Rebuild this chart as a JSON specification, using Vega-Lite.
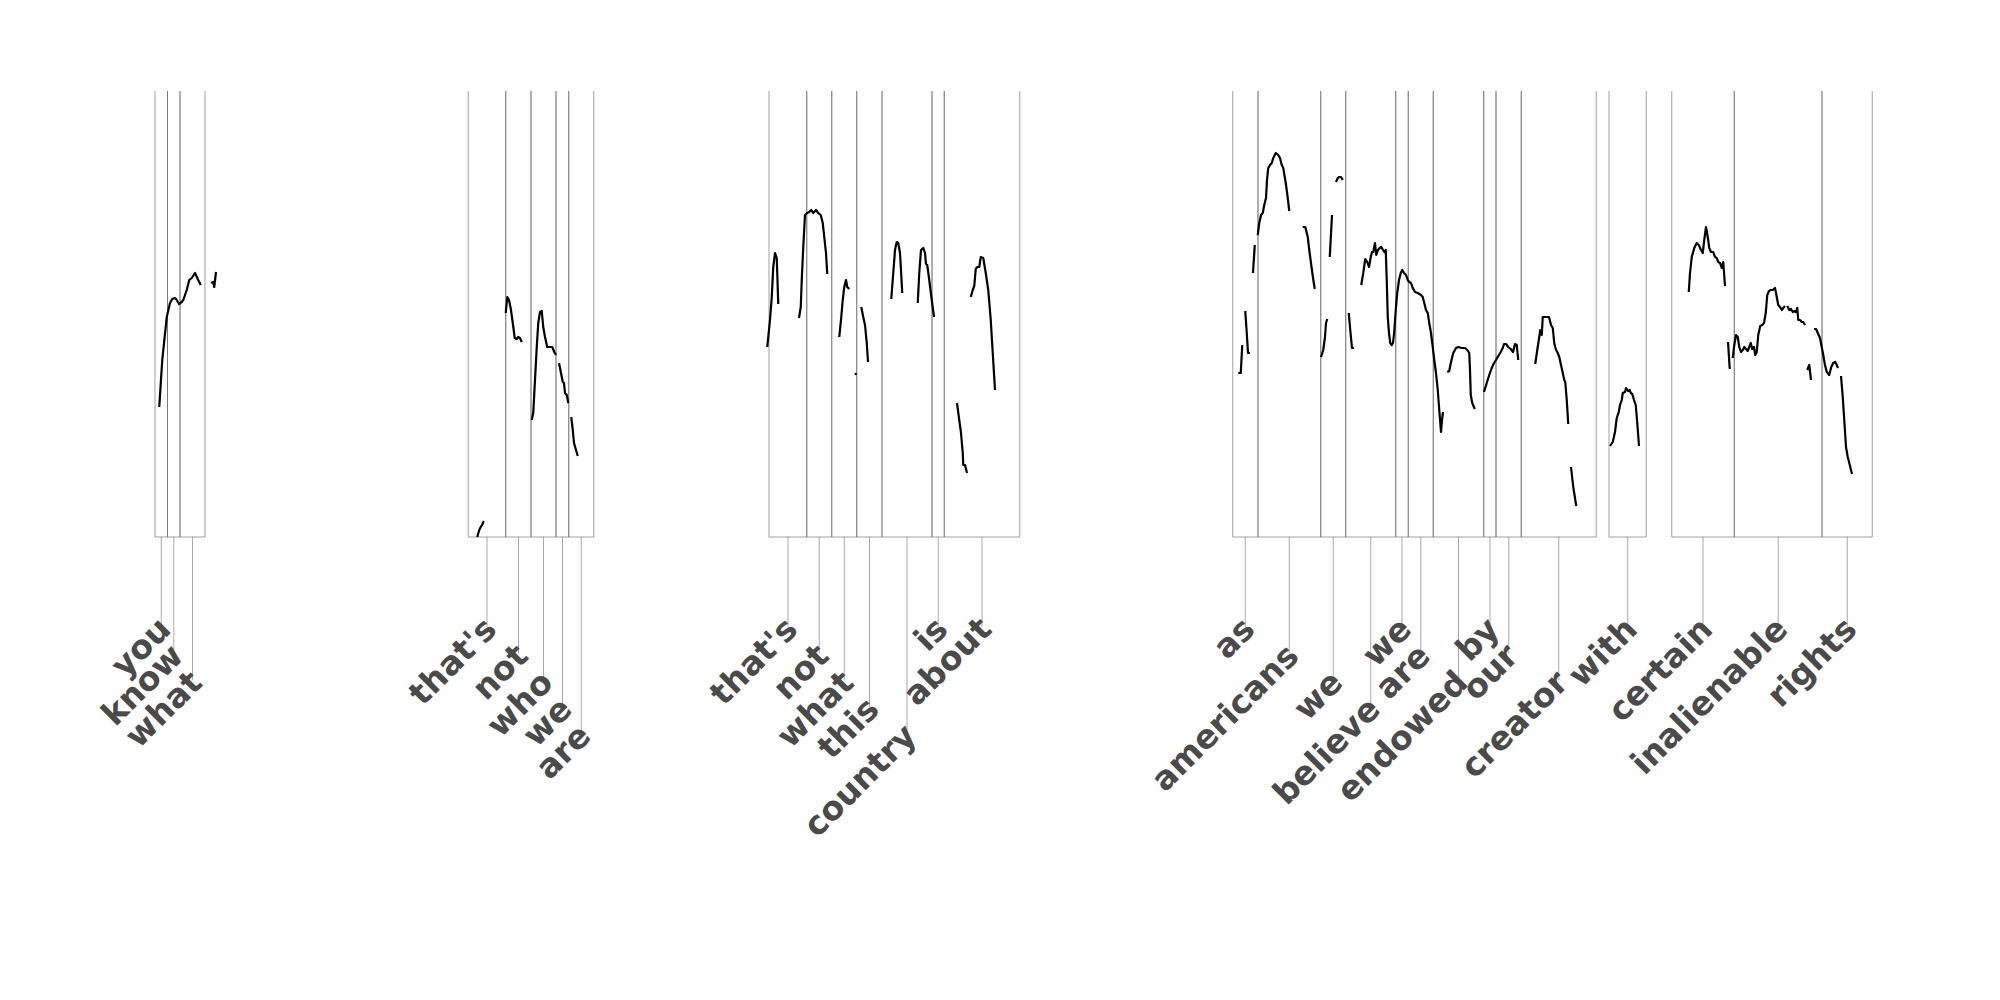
{
"$schema": "https://vega.github.io/schema/vega-lite/v6.json",
"width": 2000, "height": 1000, "padding": 0, "autosize": {"type": "none"},
"background": "white",
"config": {"view": {"stroke": null}},
"datasets": {
"words": [
{"w":"you","start":620,"end":670,"mid":645,"level":0},
{"w":"know","start":670,"end":720,"mid":695,"level":1},
{"w":"what","start":720,"end":820,"mid":770,"level":2},
{"w":"that's","start":1873,"end":2023,"mid":1948,"level":0},
{"w":"not","start":2023,"end":2124,"mid":2074,"level":1},
{"w":"who","start":2124,"end":2224,"mid":2174,"level":2},
{"w":"we","start":2224,"end":2275,"mid":2250,"level":3},
{"w":"are","start":2275,"end":2375,"mid":2325,"level":4},
{"w":"that's","start":3076,"end":3227,"mid":3152,"level":0},
{"w":"not","start":3227,"end":3327,"mid":3277,"level":1},
{"w":"what","start":3327,"end":3427,"mid":3377,"level":2},
{"w":"this","start":3427,"end":3528,"mid":3478,"level":3},
{"w":"country","start":3528,"end":3728,"mid":3628,"level":4},
{"w":"is","start":3728,"end":3777,"mid":3753,"level":0},
{"w":"about","start":3777,"end":4079,"mid":3928,"level":0},
{"w":"as","start":4931,"end":5032,"mid":4981,"level":0},
{"w":"americans","start":5032,"end":5283,"mid":5157,"level":1},
{"w":"we","start":5283,"end":5383,"mid":5333,"level":2},
{"w":"believe","start":5383,"end":5583,"mid":5483,"level":3},
{"w":"we","start":5583,"end":5633,"mid":5608,"level":0},
{"w":"are","start":5633,"end":5733,"mid":5683,"level":1},
{"w":"endowed","start":5733,"end":5935,"mid":5834,"level":2},
{"w":"by","start":5935,"end":5984,"mid":5960,"level":0},
{"w":"our","start":5984,"end":6085,"mid":6035,"level":1},
{"w":"creator","start":6085,"end":6385,"mid":6235,"level":2},
{"w":"with","start":6436,"end":6585,"mid":6511,"level":0},
{"w":"certain","start":6687,"end":6937,"mid":6812,"level":0},
{"w":"inalienable","start":6937,"end":7288,"mid":7113,"level":0},
{"w":"rights","start":7288,"end":7489,"mid":7389,"level":0}
],
"pitch": [
{"seg":"1a","t":637,"f0":130},{"seg":"1a","t":649,"f0":177},{"seg":"1a","t":667,"f0":220},{"seg":"1a","t":680,"f0":234},{"seg":"1a","t":689,"f0":238},{"seg":"1a","t":700,"f0":239},{"seg":"1a","t":707,"f0":237},{"seg":"1a","t":716,"f0":233},{"seg":"1a","t":727,"f0":235},{"seg":"1a","t":733,"f0":237},{"seg":"1a","t":747,"f0":247},{"seg":"1a","t":757,"f0":257},{"seg":"1a","t":767,"f0":259},{"seg":"1a","t":780,"f0":264},{"seg":"1a","t":791,"f0":258},{"seg":"1a","t":803,"f0":252},
{"seg":"1b","t":845,"f0":254},{"seg":"1b","t":853,"f0":255},{"seg":"1b","t":857,"f0":250},{"seg":"1b","t":864,"f0":265},
{"seg":"2a","t":1909,"f0":0},{"seg":"2a","t":1917,"f0":7},{"seg":"2a","t":1923,"f0":10},{"seg":"2a","t":1928,"f0":12},{"seg":"2a","t":1935,"f0":16},
{"seg":"2b","t":2023,"f0":224},{"seg":"2b","t":2029,"f0":240},{"seg":"2b","t":2036,"f0":237},{"seg":"2b","t":2044,"f0":227},{"seg":"2b","t":2051,"f0":214},{"seg":"2b","t":2059,"f0":199},{"seg":"2b","t":2067,"f0":198},{"seg":"2b","t":2073,"f0":200},{"seg":"2b","t":2080,"f0":199},{"seg":"2b","t":2087,"f0":195},
{"seg":"2c","t":2127,"f0":117},{"seg":"2c","t":2133,"f0":124},{"seg":"2c","t":2140,"f0":157},{"seg":"2c","t":2147,"f0":190},{"seg":"2c","t":2153,"f0":214},{"seg":"2c","t":2160,"f0":225},{"seg":"2c","t":2167,"f0":226},{"seg":"2c","t":2173,"f0":210},{"seg":"2c","t":2180,"f0":200},{"seg":"2c","t":2189,"f0":190},{"seg":"2c","t":2200,"f0":190},{"seg":"2c","t":2209,"f0":190},{"seg":"2c","t":2217,"f0":185},{"seg":"2c","t":2224,"f0":182},
{"seg":"2d","t":2236,"f0":174},{"seg":"2d","t":2244,"f0":164},{"seg":"2d","t":2251,"f0":155},{"seg":"2d","t":2256,"f0":154},{"seg":"2d","t":2260,"f0":144},{"seg":"2d","t":2267,"f0":142},{"seg":"2d","t":2273,"f0":134},
{"seg":"2e","t":2285,"f0":120},{"seg":"2e","t":2291,"f0":107},{"seg":"2e","t":2296,"f0":94},{"seg":"2e","t":2304,"f0":87},{"seg":"2e","t":2311,"f0":81},
{"seg":"3a","t":3069,"f0":190},{"seg":"3a","t":3080,"f0":217},{"seg":"3a","t":3087,"f0":240},{"seg":"3a","t":3093,"f0":270},{"seg":"3a","t":3100,"f0":284},{"seg":"3a","t":3107,"f0":279},{"seg":"3a","t":3113,"f0":233},
{"seg":"3b","t":3196,"f0":219},{"seg":"3b","t":3203,"f0":230},{"seg":"3b","t":3207,"f0":257},{"seg":"3b","t":3213,"f0":290},{"seg":"3b","t":3220,"f0":322},{"seg":"3b","t":3229,"f0":324},{"seg":"3b","t":3237,"f0":325},{"seg":"3b","t":3245,"f0":327},{"seg":"3b","t":3253,"f0":324},{"seg":"3b","t":3264,"f0":327},{"seg":"3b","t":3273,"f0":324},{"seg":"3b","t":3283,"f0":322},{"seg":"3b","t":3291,"f0":314},{"seg":"3b","t":3297,"f0":300},{"seg":"3b","t":3304,"f0":284},{"seg":"3b","t":3309,"f0":263},
{"seg":"3c","t":3357,"f0":200},{"seg":"3c","t":3364,"f0":217},{"seg":"3c","t":3371,"f0":237},{"seg":"3c","t":3377,"f0":250},{"seg":"3c","t":3384,"f0":257},{"seg":"3c","t":3389,"f0":250},{"seg":"3c","t":3397,"f0":248},
{"seg":"3d","t":3419,"f0":163},{"seg":"3d","t":3427,"f0":163},
{"seg":"3e","t":3445,"f0":230},{"seg":"3e","t":3453,"f0":220},{"seg":"3e","t":3460,"f0":212},{"seg":"3e","t":3467,"f0":194},{"seg":"3e","t":3472,"f0":175},
{"seg":"3f","t":3565,"f0":238},{"seg":"3f","t":3573,"f0":264},{"seg":"3f","t":3580,"f0":287},{"seg":"3f","t":3587,"f0":295},{"seg":"3f","t":3593,"f0":294},{"seg":"3f","t":3600,"f0":284},{"seg":"3f","t":3604,"f0":267},{"seg":"3f","t":3609,"f0":244},
{"seg":"3g","t":3671,"f0":234},{"seg":"3g","t":3677,"f0":264},{"seg":"3g","t":3684,"f0":287},{"seg":"3g","t":3693,"f0":289},{"seg":"3g","t":3700,"f0":284},{"seg":"3g","t":3704,"f0":273},{"seg":"3g","t":3709,"f0":272},{"seg":"3g","t":3717,"f0":257},{"seg":"3g","t":3727,"f0":237},{"seg":"3g","t":3736,"f0":220},
{"seg":"3h","t":3828,"f0":134},{"seg":"3h","t":3837,"f0":117},{"seg":"3h","t":3844,"f0":104},{"seg":"3h","t":3851,"f0":84},{"seg":"3h","t":3853,"f0":72},{"seg":"3h","t":3860,"f0":72},{"seg":"3h","t":3868,"f0":64},
{"seg":"3i","t":3883,"f0":240},{"seg":"3i","t":3891,"f0":247},{"seg":"3i","t":3897,"f0":251},{"seg":"3i","t":3903,"f0":268},{"seg":"3i","t":3909,"f0":270},{"seg":"3i","t":3917,"f0":270},{"seg":"3i","t":3923,"f0":280},{"seg":"3i","t":3933,"f0":279},{"seg":"3i","t":3943,"f0":264},{"seg":"3i","t":3953,"f0":247},{"seg":"3i","t":3963,"f0":217},{"seg":"3i","t":3971,"f0":184},{"seg":"3i","t":3980,"f0":147},
{"seg":"4a","t":4953,"f0":164},{"seg":"4a","t":4963,"f0":164},{"seg":"4a","t":4969,"f0":192},
{"seg":"4b","t":4981,"f0":226},{"seg":"4b","t":4987,"f0":204},{"seg":"4b","t":4992,"f0":184},{"seg":"4b","t":5000,"f0":184},
{"seg":"4c","t":5012,"f0":264},{"seg":"4c","t":5019,"f0":292},
{"seg":"4d","t":5031,"f0":302},{"seg":"4d","t":5037,"f0":314},{"seg":"4d","t":5044,"f0":322},{"seg":"4d","t":5051,"f0":324},{"seg":"4d","t":5057,"f0":332},{"seg":"4d","t":5064,"f0":339},{"seg":"4d","t":5068,"f0":357},{"seg":"4d","t":5073,"f0":369},{"seg":"4d","t":5080,"f0":372},{"seg":"4d","t":5087,"f0":374},{"seg":"4d","t":5093,"f0":379},{"seg":"4d","t":5103,"f0":384},{"seg":"4d","t":5113,"f0":382},{"seg":"4d","t":5120,"f0":379},{"seg":"4d","t":5127,"f0":372},{"seg":"4d","t":5133,"f0":369},{"seg":"4d","t":5143,"f0":354},{"seg":"4d","t":5151,"f0":339},{"seg":"4d","t":5157,"f0":326},
{"seg":"4e","t":5211,"f0":310},{"seg":"4e","t":5221,"f0":310},{"seg":"4e","t":5231,"f0":300},{"seg":"4e","t":5237,"f0":287},{"seg":"4e","t":5244,"f0":274},{"seg":"4e","t":5251,"f0":261},{"seg":"4e","t":5259,"f0":248},
{"seg":"4f","t":5284,"f0":180},{"seg":"4f","t":5293,"f0":187},{"seg":"4f","t":5300,"f0":200},{"seg":"4f","t":5304,"f0":214},{"seg":"4f","t":5309,"f0":218},
{"seg":"4g","t":5319,"f0":280},{"seg":"4g","t":5328,"f0":322},
{"seg":"4h","t":5344,"f0":355},{"seg":"4h","t":5351,"f0":359},{"seg":"4h","t":5357,"f0":360},{"seg":"4h","t":5364,"f0":360},{"seg":"4h","t":5371,"f0":357},
{"seg":"4i","t":5395,"f0":224},{"seg":"4i","t":5401,"f0":207},{"seg":"4i","t":5408,"f0":189},{"seg":"4i","t":5416,"f0":189},
{"seg":"4j","t":5445,"f0":252},{"seg":"4j","t":5453,"f0":264},{"seg":"4j","t":5461,"f0":278},{"seg":"4j","t":5469,"f0":275},{"seg":"4j","t":5476,"f0":270},{"seg":"4j","t":5483,"f0":280},{"seg":"4j","t":5488,"f0":285},{"seg":"4j","t":5493,"f0":285},{"seg":"4j","t":5500,"f0":294},{"seg":"4j","t":5505,"f0":282},{"seg":"4j","t":5512,"f0":287},{"seg":"4j","t":5519,"f0":289},{"seg":"4j","t":5525,"f0":290},{"seg":"4j","t":5532,"f0":287},{"seg":"4j","t":5537,"f0":285},{"seg":"4j","t":5543,"f0":287},{"seg":"4j","t":5547,"f0":257},{"seg":"4j","t":5551,"f0":220},{"seg":"4j","t":5556,"f0":204},{"seg":"4j","t":5561,"f0":194},{"seg":"4j","t":5567,"f0":192},{"seg":"4j","t":5572,"f0":194},{"seg":"4j","t":5577,"f0":205},{"seg":"4j","t":5583,"f0":227},{"seg":"4j","t":5589,"f0":244},{"seg":"4j","t":5596,"f0":257},{"seg":"4j","t":5603,"f0":264},{"seg":"4j","t":5609,"f0":267},{"seg":"4j","t":5616,"f0":264},{"seg":"4j","t":5624,"f0":262},{"seg":"4j","t":5631,"f0":257},{"seg":"4j","t":5637,"f0":255},{"seg":"4j","t":5644,"f0":254},{"seg":"4j","t":5651,"f0":249},{"seg":"4j","t":5660,"f0":245},{"seg":"4j","t":5671,"f0":244},{"seg":"4j","t":5684,"f0":242},{"seg":"4j","t":5691,"f0":240},{"seg":"4j","t":5697,"f0":234},{"seg":"4j","t":5704,"f0":227},{"seg":"4j","t":5711,"f0":224},{"seg":"4j","t":5717,"f0":214},{"seg":"4j","t":5724,"f0":204},{"seg":"4j","t":5731,"f0":190},{"seg":"4j","t":5737,"f0":177},{"seg":"4j","t":5744,"f0":164},{"seg":"4j","t":5751,"f0":147},{"seg":"4j","t":5757,"f0":127},{"seg":"4j","t":5764,"f0":105},{"seg":"4j","t":5768,"f0":117},{"seg":"4j","t":5772,"f0":125},
{"seg":"4k","t":5789,"f0":165},{"seg":"4k","t":5797,"f0":166},{"seg":"4k","t":5804,"f0":175},{"seg":"4k","t":5813,"f0":184},{"seg":"4k","t":5824,"f0":189},{"seg":"4k","t":5833,"f0":190},{"seg":"4k","t":5847,"f0":189},{"seg":"4k","t":5860,"f0":189},{"seg":"4k","t":5869,"f0":187},{"seg":"4k","t":5877,"f0":184},{"seg":"4k","t":5880,"f0":167},{"seg":"4k","t":5883,"f0":142},{"seg":"4k","t":5889,"f0":134},{"seg":"4k","t":5899,"f0":128},
{"seg":"4l","t":5936,"f0":145},{"seg":"4l","t":5947,"f0":154},{"seg":"4l","t":5957,"f0":162},{"seg":"4l","t":5967,"f0":169},{"seg":"4l","t":5976,"f0":174},{"seg":"4l","t":5984,"f0":177},{"seg":"4l","t":5993,"f0":181},{"seg":"4l","t":6003,"f0":185},{"seg":"4l","t":6011,"f0":189},{"seg":"4l","t":6016,"f0":193},{"seg":"4l","t":6024,"f0":193},{"seg":"4l","t":6033,"f0":190},{"seg":"4l","t":6043,"f0":188},{"seg":"4l","t":6052,"f0":185},{"seg":"4l","t":6060,"f0":193},{"seg":"4l","t":6067,"f0":192},{"seg":"4l","t":6073,"f0":177},
{"seg":"4m","t":6141,"f0":173},{"seg":"4m","t":6149,"f0":187},{"seg":"4m","t":6157,"f0":200},{"seg":"4m","t":6161,"f0":207},{"seg":"4m","t":6167,"f0":202},{"seg":"4m","t":6171,"f0":220},{"seg":"4m","t":6177,"f0":220},{"seg":"4m","t":6187,"f0":220},{"seg":"4m","t":6196,"f0":220},{"seg":"4m","t":6204,"f0":212},{"seg":"4m","t":6211,"f0":209},{"seg":"4m","t":6217,"f0":194},{"seg":"4m","t":6223,"f0":188},{"seg":"4m","t":6231,"f0":184},{"seg":"4m","t":6237,"f0":180},{"seg":"4m","t":6244,"f0":172},{"seg":"4m","t":6251,"f0":164},{"seg":"4m","t":6257,"f0":157},{"seg":"4m","t":6261,"f0":155},{"seg":"4m","t":6267,"f0":137},{"seg":"4m","t":6273,"f0":113},
{"seg":"4n","t":6284,"f0":70},{"seg":"4n","t":6293,"f0":50},{"seg":"4n","t":6305,"f0":31},
{"seg":"5a","t":6440,"f0":91},{"seg":"5a","t":6451,"f0":95},{"seg":"5a","t":6460,"f0":105},{"seg":"5a","t":6467,"f0":119},{"seg":"5a","t":6475,"f0":125},{"seg":"5a","t":6480,"f0":132},{"seg":"5a","t":6487,"f0":137},{"seg":"5a","t":6491,"f0":144},{"seg":"5a","t":6500,"f0":145},{"seg":"5a","t":6504,"f0":149},{"seg":"5a","t":6512,"f0":146},{"seg":"5a","t":6519,"f0":147},{"seg":"5a","t":6523,"f0":144},{"seg":"5a","t":6529,"f0":143},{"seg":"5a","t":6536,"f0":137},{"seg":"5a","t":6543,"f0":132},{"seg":"5a","t":6549,"f0":114},{"seg":"5a","t":6556,"f0":91},
{"seg":"6a","t":6755,"f0":245},{"seg":"6a","t":6760,"f0":264},{"seg":"6a","t":6767,"f0":280},{"seg":"6a","t":6777,"f0":289},{"seg":"6a","t":6787,"f0":294},{"seg":"6a","t":6795,"f0":292},{"seg":"6a","t":6804,"f0":287},{"seg":"6a","t":6811,"f0":284},{"seg":"6a","t":6817,"f0":297},{"seg":"6a","t":6824,"f0":310},{"seg":"6a","t":6831,"f0":300},{"seg":"6a","t":6837,"f0":289},{"seg":"6a","t":6844,"f0":285},{"seg":"6a","t":6853,"f0":285},{"seg":"6a","t":6860,"f0":280},{"seg":"6a","t":6867,"f0":279},{"seg":"6a","t":6873,"f0":275},{"seg":"6a","t":6880,"f0":274},{"seg":"6a","t":6887,"f0":269},{"seg":"6a","t":6893,"f0":275},{"seg":"6a","t":6900,"f0":251},
{"seg":"6b","t":6912,"f0":195},{"seg":"6b","t":6919,"f0":168},
{"seg":"6c","t":6931,"f0":179},{"seg":"6c","t":6936,"f0":190},{"seg":"6c","t":6944,"f0":202},{"seg":"6c","t":6951,"f0":200},{"seg":"6c","t":6957,"f0":190},{"seg":"6c","t":6964,"f0":185},{"seg":"6c","t":6971,"f0":187},{"seg":"6c","t":6977,"f0":190},{"seg":"6c","t":6984,"f0":188},{"seg":"6c","t":6991,"f0":186},{"seg":"6c","t":6997,"f0":190},{"seg":"6c","t":7003,"f0":194},{"seg":"6c","t":7009,"f0":188},{"seg":"6c","t":7016,"f0":190},{"seg":"6c","t":7021,"f0":182},{"seg":"6c","t":7027,"f0":185},{"seg":"6c","t":7033,"f0":202},{"seg":"6c","t":7041,"f0":211},{"seg":"6c","t":7049,"f0":212},{"seg":"6c","t":7056,"f0":214},{"seg":"6c","t":7063,"f0":224},{"seg":"6c","t":7069,"f0":242},{"seg":"6c","t":7076,"f0":246},{"seg":"6c","t":7083,"f0":247},{"seg":"6c","t":7091,"f0":247},{"seg":"6c","t":7100,"f0":249},{"seg":"6c","t":7107,"f0":240},{"seg":"6c","t":7113,"f0":232},{"seg":"6c","t":7120,"f0":230},{"seg":"6c","t":7127,"f0":227},{"seg":"6c","t":7133,"f0":229},{"seg":"6c","t":7140,"f0":231},
{"seg":"6d","t":7149,"f0":231},{"seg":"6d","t":7157,"f0":227},{"seg":"6d","t":7164,"f0":228},{"seg":"6d","t":7171,"f0":225},{"seg":"6d","t":7177,"f0":226},{"seg":"6d","t":7184,"f0":225},{"seg":"6d","t":7189,"f0":229},{"seg":"6d","t":7193,"f0":217},{"seg":"6d","t":7200,"f0":217},{"seg":"6d","t":7207,"f0":215},{"seg":"6d","t":7213,"f0":215},{"seg":"6d","t":7220,"f0":212},
{"seg":"6e","t":7229,"f0":167},{"seg":"6e","t":7237,"f0":172},{"seg":"6e","t":7244,"f0":157},
{"seg":"6f","t":7256,"f0":208},{"seg":"6f","t":7264,"f0":208},{"seg":"6f","t":7271,"f0":204},{"seg":"6f","t":7280,"f0":199},{"seg":"6f","t":7287,"f0":190},{"seg":"6f","t":7293,"f0":182},{"seg":"6f","t":7300,"f0":172},{"seg":"6f","t":7307,"f0":165},{"seg":"6f","t":7317,"f0":162},{"seg":"6f","t":7325,"f0":170},{"seg":"6f","t":7333,"f0":174},{"seg":"6f","t":7341,"f0":175},{"seg":"6f","t":7347,"f0":172},{"seg":"6f","t":7352,"f0":169},
{"seg":"6g","t":7364,"f0":161},{"seg":"6g","t":7371,"f0":140},{"seg":"6g","t":7377,"f0":117},{"seg":"6g","t":7384,"f0":90},{"seg":"6g","t":7391,"f0":80},{"seg":"6g","t":7397,"f0":74},{"seg":"6g","t":7408,"f0":63}
]
},
"layer": [
{
"layer": [
{"data": {"name": "words"}, "mark": {"type": "rule", "color": "#555555", "opacity": 0.55, "strokeWidth": 1},
 "encoding": {"x": {"field": "start", "type": "quantitative", "scale": {"domain": [0, 8000], "nice": false, "zero": false}, "axis": null},
  "y": {"datum": 0, "type": "quantitative", "scale": {"domain": [-463, 537], "nice": false, "zero": false}, "axis": null},
  "y2": {"datum": 446}}},
{"data": {"name": "words"}, "mark": {"type": "rule", "color": "#555555", "opacity": 0.55, "strokeWidth": 1},
 "encoding": {"x": {"field": "end", "type": "quantitative"},
  "y": {"datum": 0, "type": "quantitative"},
  "y2": {"datum": 446}}},
{"data": {"name": "words"}, "mark": {"type": "rule", "color": "#555555", "opacity": 0.55, "strokeWidth": 1},
 "encoding": {"x": {"field": "start", "type": "quantitative"}, "x2": {"field": "end"},
  "y": {"datum": 0, "type": "quantitative"}}},
{"data": {"name": "pitch"}, "mark": {"type": "line", "color": "black", "strokeWidth": 2.2, "strokeJoin": "round"},
 "encoding": {"x": {"field": "t", "type": "quantitative"},
  "y": {"field": "f0", "type": "quantitative"},
  "detail": {"field": "seg"}}}
]
},
{
"data": {"name": "words"},
"layer": [
{"mark": {"type": "rule", "color": "#555555", "opacity": 0.5, "strokeWidth": 1},
 "encoding": {"x": {"field": "mid", "type": "quantitative", "scale": {"domain": [0, 8000], "nice": false, "zero": false}, "axis": null},
  "y": {"field": "level", "type": "quantitative", "scale": {"domain": [-23.51, 13.99], "nice": false, "zero": false, "reverse": true}, "axis": null},
  "y2": {"datum": -3.375}}},
{"mark": {"type": "text", "font": "DejaVu Sans", "fontWeight": "bold", "fontSize": 33, "color": "#4a4a4a", "angle": 315, "align": "right", "baseline": "alphabetic", "dx": 5, "dy": 11},
 "encoding": {"x": {"field": "mid", "type": "quantitative"},
  "y": {"field": "level", "type": "quantitative"},
  "text": {"field": "w"}}}
]
}
],
"resolve": {"scale": {"y": "independent"}}
}
